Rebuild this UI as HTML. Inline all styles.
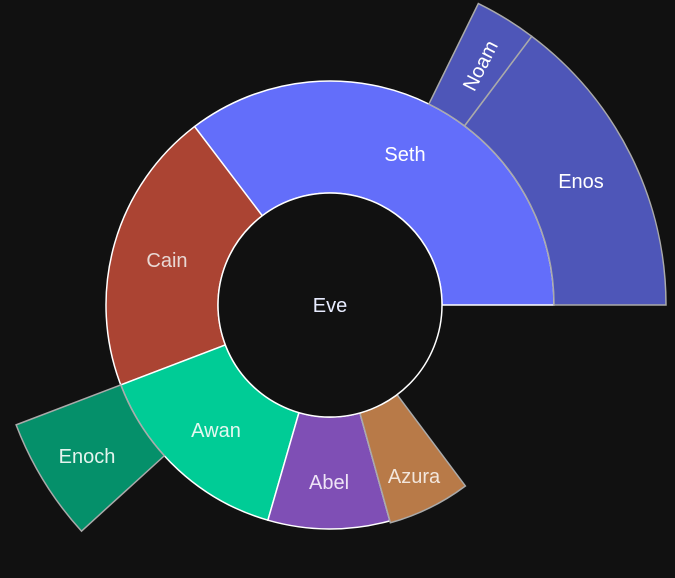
<!DOCTYPE html>
<html><head><meta charset="utf-8"><style>
html,body{margin:0;padding:0;background:#111111;}
svg{display:block}
text{font-family:"Liberation Sans","DejaVu Sans",sans-serif;font-size:20px;text-anchor:middle;dominant-baseline:central;}
</style></head><body>
<svg id="s" width="675" height="578" viewBox="0 0 675 578">
<rect width="675" height="578" fill="#111111"/>
<g id="segs"></g>
<circle cx="330" cy="305" r="112" fill="#111111" stroke="#ffffff" stroke-width="1.5"/>
<text x="330" y="306" fill="#e8ecff">Eve</text>
<text x="405" y="155" fill="#ffffff">Seth</text>
<text x="581" y="182" fill="#ffffff">Enos</text>
<text x="481" y="66" fill="#ffffff" transform="rotate(-63 481 66)">Noam</text>
<text x="167" y="261" fill="#e8d8d4">Cain</text>
<text x="216" y="431" fill="#e4f8f0">Awan</text>
<text x="329" y="483" fill="#eee4f6">Abel</text>
<text x="414" y="477" fill="#f2e6dc">Azura</text>
<text x="87" y="457" fill="#e4f4ee">Enoch</text>
</svg>
<script>
var cx=330,cy=305;
function pt(r,a){a=a*Math.PI/180;return [cx+r*Math.cos(a),cy-r*Math.sin(a)];}
function seg(r0,r1,a0,a1,fill,stroke){
 var p1=pt(r0,a0),p2=pt(r1,a0),p3=pt(r1,a1),p4=pt(r0,a1);
 var lg=(a1-a0)>180?1:0;
 var d="M"+p1+" L"+p2+" A"+r1+" "+r1+" 0 "+lg+" 0 "+p3+" L"+p4+" A"+r0+" "+r0+" 0 "+lg+" 1 "+p1+"Z";
 var e=document.createElementNS("http://www.w3.org/2000/svg","path");
 e.setAttribute("d",d);e.setAttribute("fill",fill);e.setAttribute("stroke",stroke);e.setAttribute("stroke-width","1.5");
 document.getElementById("segs").appendChild(e);
}
seg(112,224,0,127.2,"#636efa","#ffffff");
seg(112,224,127.2,200.9,"#ab4433","#ffffff");
seg(112,224,200.9,253.9,"#00cc96","#ffffff");
seg(112,224,253.9,285.5,"#7f4fb5","#ffffff");
seg(112,226,285.5,306.8,"#b87a48","#aaaaaa");
seg(224,336,0,53.1,"#4e56b8","#aaaaaa");
seg(224,336,53.1,63.8,"#4e56b8","#aaaaaa");
seg(224,336,200.9,222.3,"#05906a","#aaaaaa");
</script>
</body></html>
